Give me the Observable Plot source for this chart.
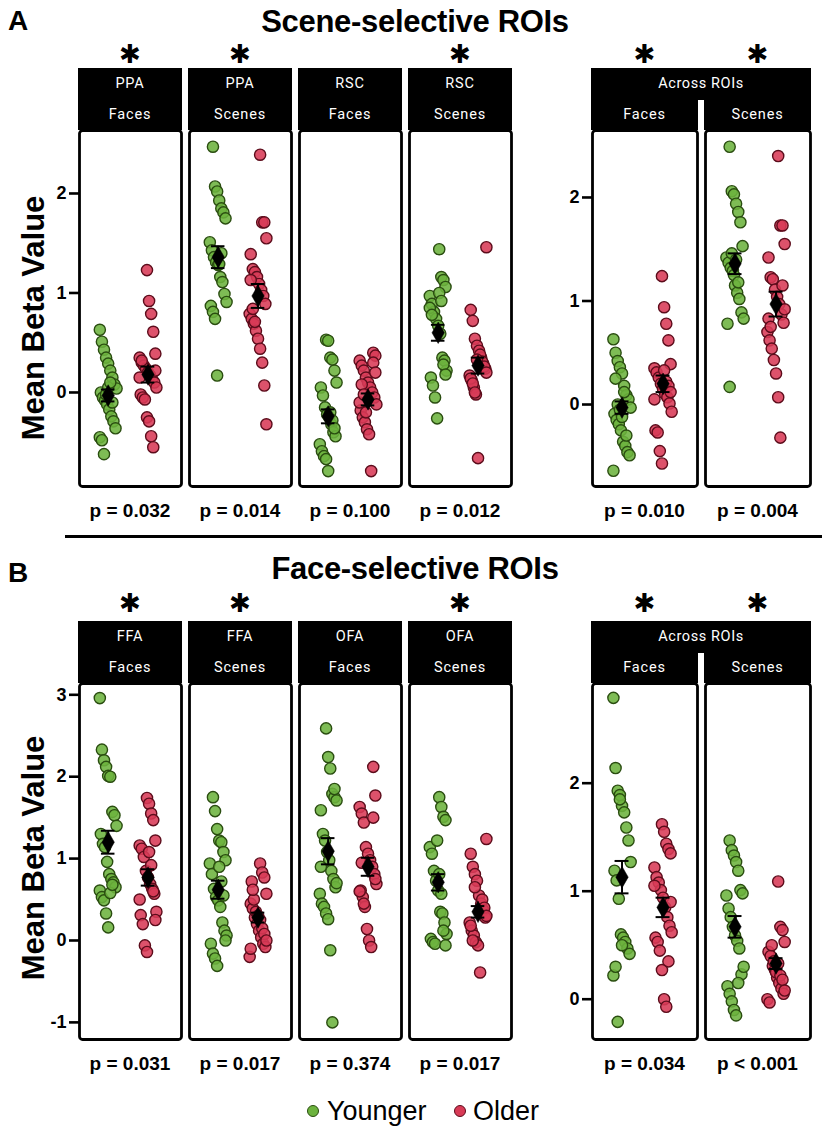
<!DOCTYPE html>
<html>
<head>
<meta charset="utf-8">
<script src="https://cdn.jsdelivr.net/npm/d3@7"></script>
<script src="https://cdn.jsdelivr.net/npm/@observablehq/plot@0.6"></script>
<style>
  html, body { margin: 0; padding: 0; background: #fff; }
  #page { position: relative; width: 828px; height: 1137px; overflow: hidden; background: #fff; font-family: 'Liberation Sans', Arial, sans-serif; }
  .abs { position: absolute; white-space: nowrap; line-height: 1; }
</style>
</head>
<body>
<div id="page"></div>
<script>
// ---------------- DATA ----------------
const groups = ["Younger", "Older"];

const facetsA = ["PPA|Faces", "PPA|Scenes", "RSC|Faces", "RSC|Scenes"];
const facetsAR = ["Faces", "Scenes"];
const facetsB = ["FFA|Faces", "FFA|Scenes", "OFA|Faces", "OFA|Scenes"];

// Panel A: scene-selective ROIs
const A_PPA_Faces_Y = [0.63,0.51,0.43,0.35,0.29,0.22,0.15,0.08,0.04,0.0,-0.05,-0.08,-0.12,-0.17,-0.24,-0.29,-0.36,-0.45,-0.48,-0.62,-0.02,0.05,0.1,-0.1];
const A_PPA_Faces_O = [1.23,0.92,0.79,0.61,0.39,0.35,0.30,0.27,0.24,0.20,0.17,0.13,0.10,0.05,-0.02,-0.05,-0.07,-0.25,-0.29,-0.44,-0.55,0.22,0.15,0.32];
const A_PPA_Scenes_Y = [2.47,2.07,2.02,1.93,1.85,1.81,1.75,1.51,1.43,1.36,1.31,1.28,1.16,1.11,0.99,0.91,0.87,0.81,0.74,0.17,1.29,1.40];
const A_PPA_Scenes_O = [2.39,1.71,1.71,1.55,1.39,1.24,1.21,1.16,1.09,1.03,0.97,0.89,0.79,0.74,0.69,0.62,0.54,0.44,0.30,0.07,-0.32,1.13,0.84,0.71];
const A_RSC_Faces_Y = [0.53,0.52,0.35,0.33,0.22,0.10,0.05,-0.03,-0.15,-0.22,-0.25,-0.32,-0.40,-0.44,-0.52,-0.59,-0.64,-0.67,-0.79,-0.20,-0.28,-0.36];
const A_RSC_Faces_O = [0.40,0.37,0.32,0.27,0.22,0.15,0.10,0.05,0.0,-0.05,-0.12,-0.18,-0.25,-0.30,-0.37,-0.42,-0.79,0.30,0.20,-0.10,0.08,-0.02,-0.20];
const A_RSC_Scenes_Y = [1.44,1.16,1.13,1.06,0.97,0.89,0.81,0.74,0.67,0.59,0.35,0.32,0.22,0.15,0.07,-0.05,-0.26,1.00,0.92,0.28,0.18,0.85,0.78];
const A_RSC_Scenes_O = [1.46,0.83,0.72,0.54,0.47,0.42,0.35,0.29,0.24,0.17,0.12,0.05,-0.02,-0.66,0.38,0.31,0.26,0.20,0.14,0.09,0.00,0.33];

const AR_A_Faces_Y = [0.63,0.50,0.42,0.36,0.30,0.18,0.09,0.05,-0.03,-0.09,-0.15,-0.19,-0.25,-0.36,-0.40,-0.46,-0.49,-0.64,0.25,0.0,-0.05,-0.12,0.12,-0.30];
const AR_A_Faces_O = [1.24,0.94,0.78,0.62,0.39,0.35,0.31,0.26,0.20,0.15,0.10,0.07,0.01,-0.07,-0.25,-0.27,-0.45,-0.57,0.33,0.22,0.18,0.12,0.05];
const AR_A_Scenes_Y = [2.49,2.06,2.03,1.94,1.86,1.76,1.53,1.42,1.37,1.32,1.29,1.15,1.08,1.02,0.89,0.83,0.78,0.17,1.46,1.25,1.40,1.18];
const AR_A_Scenes_O = [2.40,1.73,1.73,1.55,1.42,1.23,1.21,1.11,1.04,0.97,0.87,0.79,0.70,0.62,0.54,0.43,0.30,0.07,-0.32,1.15,0.92,0.83,0.75];

// Panel B: face-selective ROIs
const B_FFA_Faces_Y = [2.96,2.33,2.20,2.12,2.01,2.00,1.57,1.53,1.40,1.30,1.18,1.14,0.96,0.81,0.75,0.71,0.65,0.61,0.53,0.49,0.33,0.16,0.58,0.68];
const B_FFA_Faces_O = [1.74,1.67,1.55,1.47,1.22,1.16,1.12,1.02,0.85,0.77,0.69,0.63,0.57,0.35,0.31,0.20,-0.06,-0.14,1.08,0.92,0.60,0.25,0.50];
const B_FFA_Scenes_Y = [1.75,1.58,1.36,1.22,1.20,1.08,0.98,0.94,0.81,0.63,0.53,0.49,0.41,0.22,0.12,0.06,-0.04,-0.16,-0.22,-0.31,0.90,0.72,0.55,0.00];
const B_FFA_Scenes_O = [0.94,0.83,0.77,0.57,0.45,0.39,0.28,0.20,0.12,0.04,-0.04,-0.08,-0.20,0.72,0.50,0.35,0.30,0.25,0.15,0.08,0.00,-0.10,0.62];
const B_OFA_Faces_Y = [2.59,2.24,2.10,1.79,1.75,1.71,1.59,1.30,1.22,1.08,0.98,0.85,0.75,0.65,0.57,0.45,0.41,0.33,0.26,-0.12,-1.00,1.85,0.70,0.90];
const B_OFA_Faces_O = [2.12,1.77,1.63,1.55,1.44,1.14,1.06,0.98,0.90,0.81,0.69,0.61,0.53,0.41,0.14,0.00,-0.08,1.50,0.75,0.60,0.95,0.45];
const B_OFA_Scenes_Y = [1.75,1.63,1.51,1.47,1.14,1.06,0.85,0.73,0.61,0.35,0.33,0.22,0.08,0.02,-0.02,-0.04,1.22,0.81,0.57,0.12,-0.06];
const B_OFA_Scenes_O = [1.24,1.06,0.90,0.81,0.73,0.55,0.45,0.37,0.28,0.22,0.12,0.06,-0.02,-0.06,-0.39,0.50,0.40,0.30,0.18,0.00,0.65];

const AR_B_Faces_Y = [2.79,2.14,1.93,1.89,1.79,1.73,1.59,1.47,1.27,1.19,1.10,0.93,0.60,0.57,0.53,0.47,0.42,0.22,0.30,-0.21,1.85,0.50];
const AR_B_Faces_O = [1.62,1.55,1.44,1.39,1.35,1.22,1.13,1.08,1.01,0.94,0.85,0.76,0.68,0.62,0.57,0.53,0.45,0.27,0.00,-0.07,0.35,0.90,1.05];
const AR_B_Scenes_Y = [1.47,1.38,1.33,1.27,1.19,1.01,0.98,0.96,0.84,0.76,0.67,0.59,0.54,0.47,0.23,0.30,0.12,0.05,-0.02,-0.10,-0.15,0.15];
const AR_B_Scenes_O = [1.09,0.67,0.64,0.53,0.44,0.40,0.31,0.27,0.20,0.15,0.10,0.05,0.00,-0.03,0.50,0.35,0.25,0.33,0.22,0.18,0.08];

// Group means and SEMs, per facet: [Younger, Older]
const meansA = [[-0.03, 0.18], [1.36, 0.97], [-0.24, -0.07], [0.60, 0.27]];
const semsA  = [[0.06, 0.08], [0.11, 0.12], [0.07, 0.06], [0.08, 0.08]];
const meansAR_A = [[-0.03, 0.20], [1.36, 0.97]];
const semsAR_A  = [[0.06, 0.08], [0.10, 0.12]];
const meansB = [[1.20, 0.77], [0.62, 0.28], [1.09, 0.90], [0.71, 0.35]];
const semsB  = [[0.14, 0.10], [0.11, 0.06], [0.16, 0.11], [0.10, 0.07]];
const meansAR_B = [[1.13, 0.85], [0.67, 0.33]];
const semsAR_B  = [[0.15, 0.09], [0.10, 0.05]];

// p-values and significance
const pA = ["p = 0.032", "p = 0.014", "p = 0.100", "p = 0.012"];
const pAR_A = ["p = 0.010", "p = 0.004"];
const pB = ["p = 0.031", "p = 0.017", "p = 0.374", "p = 0.017"];
const pAR_B = ["p = 0.034", "p < 0.001"];
const sigA = [true, true, false, true];
const sigAR_A = [true, true];
const sigB = [true, true, false, true];
const sigAR_B = [true, true];

const ticksA = [0, 1, 2];
const ticksAR_A = [0, 1, 2];
const ticksB = [-1, 0, 1, 2, 3];
const ticksAR_B = [0, 1, 2];

// ---------------- STYLE ----------------
const GREEN = "#6cb33e", GREEN_S = "#2a4d10";
const RED = "#d83a56", RED_S = "#5c0c1b";
const HFONT = "Roboto, 'Open Sans', sans-serif";
const page = document.getElementById("page");

function text(str, x, y, opts = {}) {
  const d = document.createElement("div");
  d.className = "abs";
  d.textContent = str;
  d.style.left = x + "px";
  d.style.top = y + "px";
  d.style.fontSize = (opts.size || 16) + "px";
  d.style.fontWeight = opts.weight || "normal";
  if (opts.family) d.style.fontFamily = opts.family;
  if (opts.color) d.style.color = opts.color;
  if (opts.lh != null) d.style.lineHeight = opts.lh;
  if (opts.spacing != null) d.style.letterSpacing = opts.spacing + "px";
  const tx = opts.anchor === "start" ? "0" : "-50%";
  d.style.transform = `translate(${tx}, -50%)` + (opts.rotate ? ` rotate(${opts.rotate}deg)` : "");
  page.appendChild(d);
  return d;
}

function box(x, y, w, h, color) {
  const d = document.createElement("div");
  d.style.position = "absolute";
  d.style.left = x + "px"; d.style.top = y + "px";
  d.style.width = w + "px"; d.style.height = h + "px";
  d.style.background = color;
  page.appendChild(d);
  return d;
}

function buildRows(facets, series) {
  const rows = [];
  facets.forEach((f, k) => {
    series[k].forEach((arr, g) => {
      arr.forEach((v, i) => {
        const jit = ((((i * 53) + g * 7 + k * 3) % 17) / 16 - 0.5) * 0.42;
        rows.push({facet: f, group: groups[g], g, value: v, xj: g + jit});
      });
    });
  });
  return rows;
}

function buildSummary(facets, means, sems) {
  const s = [];
  facets.forEach((f, k) => {
    groups.forEach((grp, g) => {
      const m = means[k][g], e = sems[k][g];
      s.push({facet: f, g, mean: m, lo: m - e, hi: m + e, x1: g - 0.17, x2: g + 0.17});
    });
  });
  return s;
}

function panel(cfg) {
  const rows = buildRows(cfg.facets, cfg.series);
  const summ = buildSummary(cfg.facets, cfg.means, cfg.sems);
  const H = cfg.frameBottom - cfg.frameTop + 4;
  const plot = Plot.plot({
    width: cfg.width,
    height: H,
    marginLeft: cfg.marginLeft,
    marginRight: 3,
    marginTop: 2,
    marginBottom: 2,
    style: {fontFamily: "'Liberation Sans', Arial, sans-serif", background: "transparent", overflow: "visible"},
    fx: {domain: cfg.facets, paddingInner: cfg.pad, paddingOuter: 0, axis: null},
    x: {domain: [-0.72, 1.84], axis: null},
    y: {domain: cfg.yDomain},
    marks: [
      Plot.dot(rows.filter(d => d.g === 0), {fx: "facet", x: "xj", y: "value", r: 5.6, fill: GREEN, fillOpacity: 0.88, stroke: GREEN_S, strokeWidth: 1.4}),
      Plot.dot(rows.filter(d => d.g === 1), {fx: "facet", x: "xj", y: "value", r: 5.6, fill: RED, fillOpacity: 0.88, stroke: RED_S, strokeWidth: 1.4}),
      Plot.ruleX(summ, {fx: "facet", x: "g", y1: "lo", y2: "hi", stroke: "black", strokeWidth: 2}),
      Plot.ruleY(summ, {fx: "facet", y: "hi", x1: "x1", x2: "x2", stroke: "black", strokeWidth: 2}),
      Plot.ruleY(summ, {fx: "facet", y: "lo", x1: "x1", x2: "x2", stroke: "black", strokeWidth: 2}),
      Plot.dot(summ, {fx: "facet", x: "g", y: "mean", symbol: "diamond", r: 6.5, fill: "black", stroke: "black", strokeWidth: 0.5}),
      Plot.frame({stroke: "black", strokeWidth: 2.8, rx: 3}),
      Plot.axisY({ticks: cfg.ticks, tickSize: 10, tickPadding: 3, tickFormat: d => d, fontSize: 18, fontWeight: "bold", strokeWidth: 2.6, label: null})
    ]
  });
  plot.style.position = "absolute";
  plot.style.left = cfg.left + "px";
  plot.style.top = (cfg.frameTop - 2) + "px";
  page.appendChild(plot);

  const fx = plot.scale("fx");
  const bw = fx.bandwidth;
  const xs = cfg.facets.map(f => cfg.left + fx.apply(f));
  const hTop = cfg.frameTop - 62;

  // headers
  if (cfg.across) {
    const x0 = xs[0], x1 = xs[xs.length - 1] + bw;
    box(x0 - 1.4, hTop, x1 - x0 + 2.8, 32, "#000");
    text("Across ROIs", (x0 + x1) / 2, hTop + 16, {size: 14.5, family: HFONT, spacing: 0.6, color: "#fff"});
    cfg.facets.forEach((f, k) => {
      box(xs[k] - 1.4, hTop + 31, bw + 2.8, 31, "#000");
      text(f, xs[k] + bw / 2, hTop + 47, {size: 14.5, family: HFONT, spacing: 0.8, color: "#fff"});
    });
  } else {
    cfg.facets.forEach((f, k) => {
      const [roi, cond] = f.split("|");
      box(xs[k] - 1.4, hTop, bw + 2.8, 62, "#000");
      text(roi, xs[k] + bw / 2, hTop + 16, {size: 14.5, family: HFONT, spacing: 0.8, color: "#fff"});
      text(cond, xs[k] + bw / 2, hTop + 47, {size: 14.5, family: HFONT, spacing: 0.8, color: "#fff"});
    });
  }
  // asterisks and p-values
  cfg.facets.forEach((f, k) => {
    const cx = xs[k] + bw / 2;
    if (cfg.sig[k]) text("\u2731", cx, cfg.starY, {size: 26, family: "'DejaVu Sans', sans-serif"});
    text(cfg.p[k], cx, cfg.frameBottom + 24, {size: 19, weight: "bold"});
  });
}

// ---------------- PANEL A ----------------
text("A", 8, 21, {size: 28, weight: "bold", anchor: "start"});
text("Scene-selective ROIs", 415, 21, {size: 31, weight: "bold", spacing: -0.3});
text("Mean Beta Value", 33, 318, {size: 31, weight: "bold", rotate: -90});

panel({facets: facetsA, series: [[A_PPA_Faces_Y, A_PPA_Faces_O], [A_PPA_Scenes_Y, A_PPA_Scenes_O], [A_RSC_Faces_Y, A_RSC_Faces_O], [A_RSC_Scenes_Y, A_RSC_Scenes_O]],
  means: meansA, sems: semsA, p: pA, sig: sigA, ticks: ticksA,
  yDomain: [-0.945, 2.633], frameTop: 130, frameBottom: 486, starY: 54,
  left: 0, width: 516, marginLeft: 78, pad: 0.072});

panel({facets: facetsAR, across: true, series: [[AR_A_Faces_Y, AR_A_Faces_O], [AR_A_Scenes_Y, AR_A_Scenes_O]],
  means: meansAR_A, sems: semsAR_A, p: pAR_A, sig: sigAR_A, ticks: ticksAR_A,
  yDomain: [-0.792, 2.647], frameTop: 130, frameBottom: 486, starY: 54,
  left: 500, width: 313, marginLeft: 91, pad: 0.075});

// separator
box(65, 535, 757, 2.5, "#000");

// ---------------- PANEL B ----------------
text("B", 8, 573, {size: 28, weight: "bold", anchor: "start"});
text("Face-selective ROIs", 415, 568, {size: 31, weight: "bold", spacing: -0.3});
text("Mean Beta Value", 33, 858, {size: 31, weight: "bold", rotate: -90});

panel({facets: facetsB, series: [[B_FFA_Faces_Y, B_FFA_Faces_O], [B_FFA_Scenes_Y, B_FFA_Scenes_O], [B_OFA_Faces_Y, B_OFA_Faces_O], [B_OFA_Scenes_Y, B_OFA_Scenes_O]],
  means: meansB, sems: semsB, p: pB, sig: sigB, ticks: ticksB,
  yDomain: [-1.209, 3.138], frameTop: 683, frameBottom: 1039, starY: 603,
  left: 0, width: 516, marginLeft: 78, pad: 0.072});

panel({facets: facetsAR, across: true, series: [[AR_B_Faces_Y, AR_B_Faces_O], [AR_B_Scenes_Y, AR_B_Scenes_O]],
  means: meansAR_B, sems: semsAR_B, p: pAR_B, sig: sigAR_B, ticks: ticksAR_B,
  yDomain: [-0.373, 2.923], frameTop: 683, frameBottom: 1039, starY: 603,
  left: 500, width: 313, marginLeft: 91, pad: 0.075});

// ---------------- LEGEND ----------------
function legendDot(cx, cy, fill, stroke) {
  const d = box(cx - 6, cy - 6, 12, 12, fill);
  d.style.borderRadius = "50%";
  d.style.boxSizing = "border-box";
  d.style.border = `1.5px solid ${stroke}`;
}
legendDot(313, 1111, GREEN, GREEN_S);
text("Younger", 327, 1111, {size: 27, anchor: "start"});
legendDot(460, 1111, RED, RED_S);
text("Older", 473, 1111, {size: 27, anchor: "start"});
</script>
</body>
</html>
